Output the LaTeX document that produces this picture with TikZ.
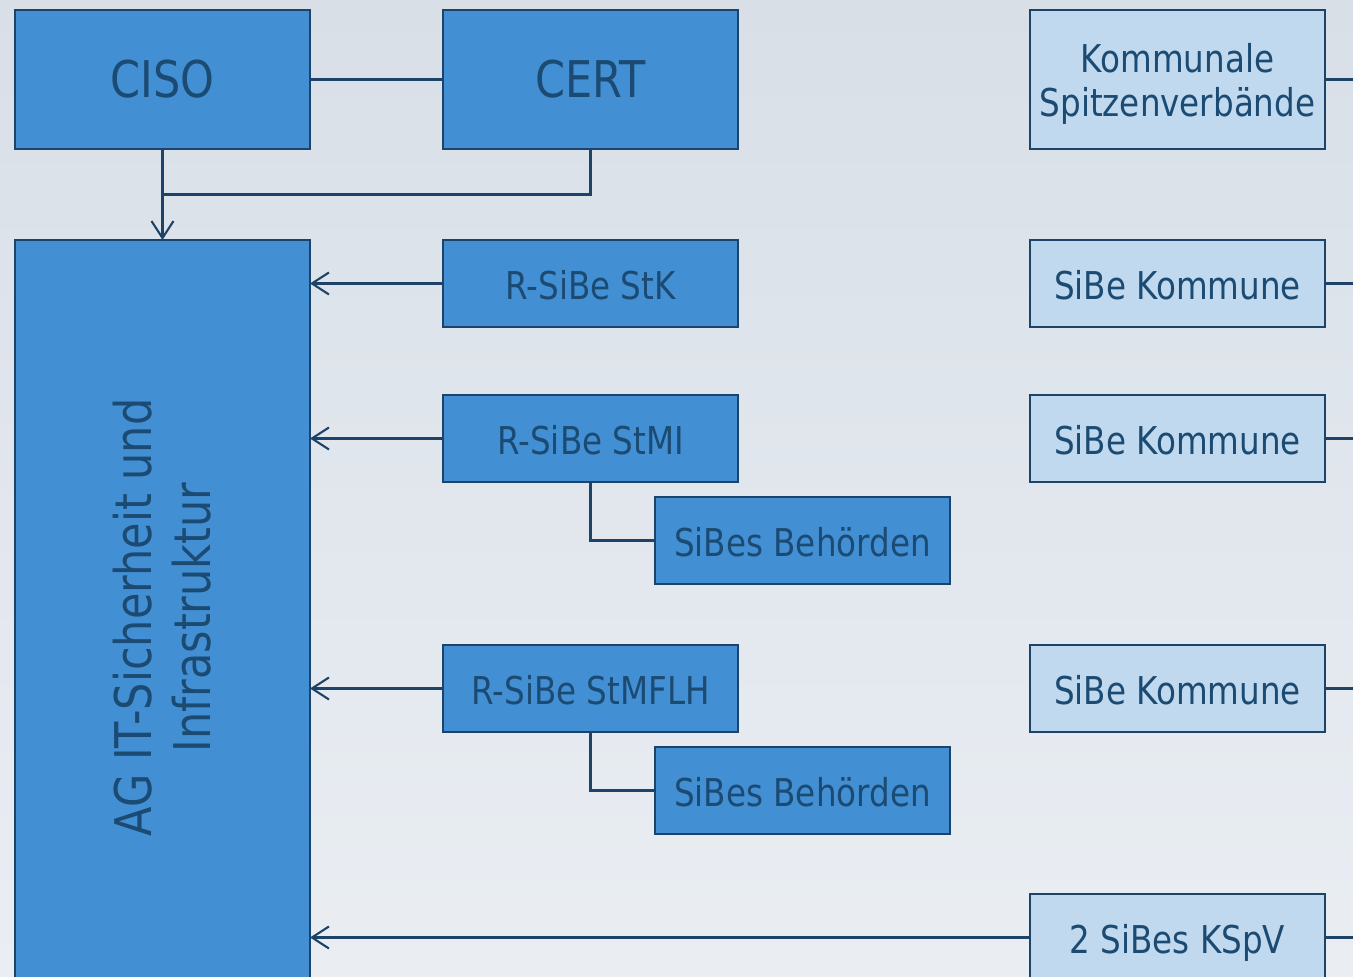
\documentclass[tikz,border=0pt]{standalone}
\usepackage{fontspec}
\setmainfont{DejaVu Sans}[FakeStretch=0.85]
\usepackage{tikz}
\usepackage{xcolor}
\usetikzlibrary{arrows.meta,positioning,calc}
\definecolor{boxblue}{HTML}{438FD3}
\definecolor{boxlight}{HTML}{C0D9EE}
\definecolor{boxedge}{HTML}{1D4468}
\definecolor{boxtext}{HTML}{1B4A72}
\definecolor{bgtop}{HTML}{D8DFE7}
\definecolor{bgbottom}{HTML}{EAEEF3}
\tikzset{
  orgbig/.style = {
    rectangle,
    draw=boxedge,
    fill=boxblue,
    line width=0.8pt,
    outer sep=0pt,
    inner sep=0pt,
    text=boxtext,
    align=center,
    font=\fontsize{14.4}{16.8}\selectfont,
    minimum width=2.95cm,
    minimum height=1.39cm
  },
  orgsmall/.style = {
    orgbig,
    font=\fontsize{10.9}{12.5}\selectfont,
    text height=0.92em,
    text depth=0pt,
    minimum height=0.87cm
  },
  orglight/.style = {
    orgsmall,
    fill=boxlight
  },
  orgline/.style = {
    draw=boxedge,
    line width=0.6pt
  },
  orgarrow/.style = {
    orgline,
    -{Straight Barb[length=1.7mm,width=2.2mm,line width=0.6pt]}
  }
}

\begin{document}
\begin{tikzpicture}[node distance=9mm]
    \clip (0,0) rectangle (13.53,-9.77);
    \fill[top color=bgtop,bottom color=bgbottom] (0,0) rectangle (13.53,-9.77);
    \coordinate (rand) at (13.53,0);
    % linke Spalte
    \node[orgbig] (ciso) at (1.625,-0.795) {CISO};
    \node[orgbig, right=1.33cm of ciso] (cert) {CERT};
    \node[orgbig, below=0.91cm of ciso, minimum height=7.55cm] (ag)
      {\rotatebox{90}{\raisebox{-0.07cm}[\height][\depth]{\begin{tabular}{@{}c@{}}AG IT-Sicherheit und\\Infrastruktur\end{tabular}}}};
    % Ressorts
    \node[orgsmall, below=0.91cm of cert] (stk) {R-SiBe StK};
    \node[orgsmall, below=0.68cm of stk] (stmi) {R-SiBe StMI};
    \node[orgsmall, below right=0.15cm and 0.645cm of stmi.south] (behmi) {SiBes Behörden};
    \node[orgsmall, below=1.63cm of stmi] (stmflh) {R-SiBe StMFLH};
    \node[orgsmall, below right=0.15cm and 0.645cm of stmflh.south] (behflh) {SiBes Behörden};
    % Kommunen
    \node[orglight, right=2.92cm of stk] (kom1) {SiBe Kommune};
    \node[orglight, above=0.91cm of kom1, minimum height=1.39cm, text height=, text depth=0pt] (ksv) {Kommunale\\Spitzenverbände};
    \node[orglight, right=2.92cm of stmi] (kom2) {SiBe Kommune};
    \node[orglight, right=2.92cm of stmflh] (kom3) {SiBe Kommune};
    \node[orglight, below=1.62cm of kom3] (kspv) {2 SiBes KSpV};
    \coordinate (join) at ($(ciso.south)!0.5!(ag.north)$);
    \draw[orgline] (ciso) -- (cert);
    \draw[orgarrow] (ciso) -- (ag);
    \draw[orgline] (cert.south) |- (join);
    \draw[orgarrow] (stk) -- (ag.east |- stk);
    \draw[orgarrow] (stmi) -- (ag.east |- stmi);
    \draw[orgarrow] (stmflh) -- (ag.east |- stmflh);
    \draw[orgarrow] (kspv) -- (ag.east |- kspv);
    \draw[orgline] (stmi.south) |- (behmi.west);
    \draw[orgline] (stmflh.south) |- (behflh.west);
    \draw[orgline] (ksv.east) -- (ksv.east -| rand);
    \draw[orgline] (kom1.east) -- (kom1.east -| rand);
    \draw[orgline] (kom2.east) -- (kom2.east -| rand);
    \draw[orgline] (kom3.east) -- (kom3.east -| rand);
    \draw[orgline] (kspv.east) -- (kspv.east -| rand);
  \end{tikzpicture}
\end{document}
